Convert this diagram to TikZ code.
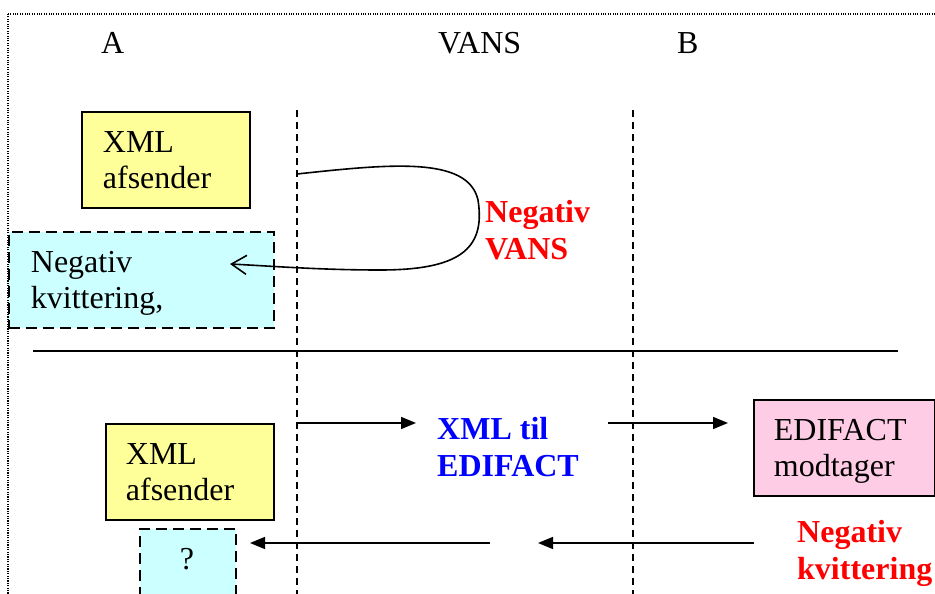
\documentclass[tikz,border=0pt]{standalone}
\usepackage{fontspec}
\setmainfont{Liberation Serif}
\usetikzlibrary{arrows.meta}
\definecolor{boxyellow}{RGB}{255,255,153}
\definecolor{boxcyan}{RGB}{204,255,255}
\definecolor{boxpink}{RGB}{255,204,230}
\definecolor{lblred}{RGB}{255,0,0}
\definecolor{lblblue}{RGB}{0,0,255}
\tikzset{
  big/.style={font=\fontsize{32}{36.5}\selectfont},
  solidbox/.style={big, draw=black, line width=1.8pt, align=left, text depth=36.5pt,
    inner ysep=0pt, anchor=north west},
  ybox/.style={solidbox, fill=boxyellow},
  pbox/.style={solidbox, fill=boxpink},
  cbox/.style={solidbox, fill=boxcyan, dash pattern=on 11pt off 6pt},
  lifeline/.style={line width=1.5pt, dash pattern=on 7pt off 5pt},
  hdr/.style={big, anchor=base west, inner sep=0pt},
  lbl/.style={font=\fontsize{32}{36.5}\selectfont\bfseries, anchor=base west, inner sep=0pt, align=left},
  msg/.style={line width=1.6pt, -{Triangle[length=15pt,width=12pt]}},
  loopmsg/.style={line width=1.6pt, -{Straight Barb[length=15pt,width=19pt]}},
}
\begin{document}
\begin{tikzpicture}[x=1pt,y=-1pt]
\useasboundingbox (0,0) rectangle (935,594);
\clip (0,0) rectangle (935,594);
% outer dotted frame
\draw[line width=1.1pt, dash pattern=on 1.1pt off 1.3pt] (8,14) rectangle (960,620);
% headers
\node[hdr] (hA) at (101,54) {A};
\node[hdr] (hV) at (438,54) {VANS};
\node[hdr] (hB) at (677,54) {B};
% lifelines
\coordinate (l1t) at (297,110); \coordinate (l1b) at (297,600);
\coordinate (l2t) at (633,110); \coordinate (l2b) at (633,600);
\draw[lifeline] (l1t) -- (l1b);
\draw[lifeline] (l2t) -- (l2b);
% top scenario
\node[ybox, minimum width=168pt, minimum height=96pt, text width=126pt, inner xsep=21pt] (xml1) at (81,111) {XML\\afsender};
\node[cbox, minimum width=265pt, minimum height=96pt, text width=221pt, inner xsep=22pt] (neg1) at (8,231) {Negativ\\kvittering,};
\coordinate (c1) at (297,174);
\coordinate (c2) at (230,264);
\draw[loopmsg] (c1) .. controls (390,164) and (468,156) .. (478,200)
  .. controls (486,250) and (458,270) .. (380,270)
  .. controls (320,270) and (270,266) .. (c2);
\node[lbl, text=lblred] (nv) at (485,259) {Negativ\\VANS};
% separator
\coordinate (s1) at (33,351); \coordinate (s2) at (898,351);
\draw[line width=1.6pt] (s1) -- (s2);
% bottom scenario
\node[ybox, minimum width=168pt, minimum height=96pt, text width=128pt, inner xsep=20pt] (xml2) at (105,423) {XML\\afsender};
\node[cbox, minimum width=96pt, minimum height=90pt] (q) at (139,528) {};
\node[hdr, anchor=base] (qt) at (187,569) {?};
\node[pbox, minimum width=181pt, minimum height=96pt, text width=141pt, inner xsep=20pt] (edi) at (753,399) {EDIFACT\\modtager};
\node[lbl, text=lblblue] (x2e) at (437,476) {XML til\\EDIFACT};
\node[lbl, text=lblred] (nk) at (797,579) {Negativ\\kvittering};
\coordinate (a1s) at (297,423); \coordinate (a1e) at (416,423);
\coordinate (a2s) at (608,423); \coordinate (a2e) at (728,423);
\coordinate (b1s) at (490,543); \coordinate (b1e) at (250,543);
\coordinate (b2s) at (754,543); \coordinate (b2e) at (538,543);
\draw[msg] (a1s) -- (a1e);
\draw[msg] (a2s) -- (a2e);
\draw[msg] (b1s) -- (b1e);
\draw[msg] (b2s) -- (b2e);
\end{tikzpicture}
\end{document}
